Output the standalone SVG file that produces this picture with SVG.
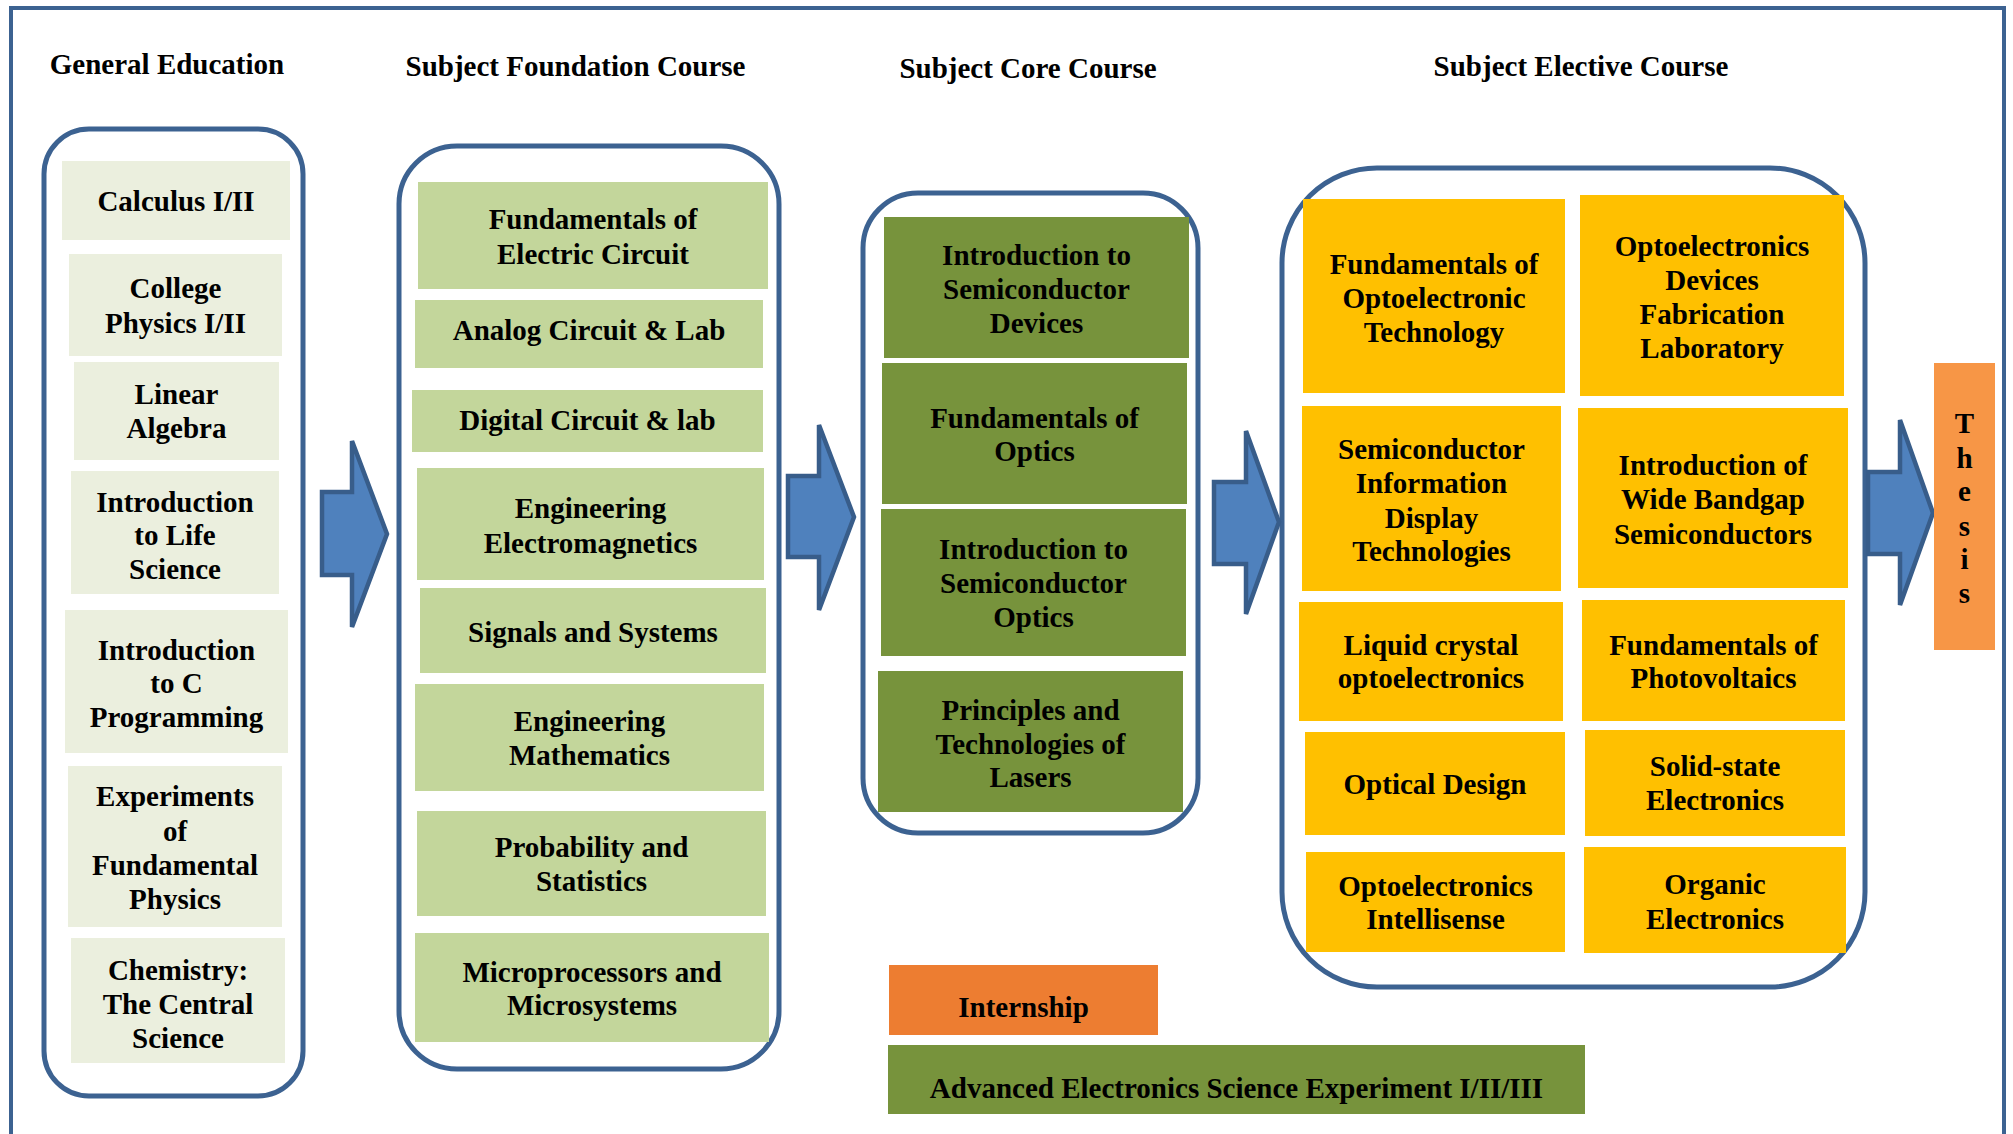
<svg xmlns="http://www.w3.org/2000/svg" width="2013" height="1134" viewBox="0 0 2013 1134">
<style>
text{font-family:"Liberation Serif","Times New Roman",serif;font-weight:bold;font-size:29px;fill:#000;text-anchor:middle}
.frame{fill:none;stroke:#3C6291;stroke-width:4}
.cont{fill:#fff;stroke:#3C6291;stroke-width:5}
.ge{fill:#EBEFDE}
.fd{fill:#C3D69B}
.co{fill:#77933C}
.el{fill:#FFC000}
.in{fill:#ED7D31}
.th{fill:#F79646}
.arrow{fill:#4F81BD;stroke:#385D8A;stroke-width:4.5;stroke-linejoin:miter}
</style>
<rect width="2013" height="1134" fill="#fff"/>
<path class="frame" d="M11,1140 V8 H2004 V1140"/>

<g id="titles">
<text x="167" y="74">General Education</text>
<text x="575.5" y="76">Subject Foundation Course</text>
<text x="1028" y="78">Subject Core Course</text>
<text x="1581" y="76">Subject Elective Course</text>
</g>

<g id="containers">
<rect id="ge-container" class="cont" x="44" y="129" width="259" height="967" rx="45"/>
<rect id="fd-container" class="cont" x="399" y="146" width="380" height="923" rx="58"/>
<rect id="co-container" class="cont" x="863" y="193" width="335" height="640" rx="55"/>
<rect id="el-container" class="cont" x="1282" y="168" width="583" height="819" rx="95"/>
</g>

<g id="connectors">
<polygon class="arrow" points="322,492 352,492 352,441 387,534 352,627 352,575 322,575"/>
<polygon class="arrow" points="788,476 819,476 819,425 854,517 819,610 819,557 788,557"/>
<polygon class="arrow" points="1214,482 1246,482 1246,431 1279,522 1246,614 1246,564 1214,564"/>
<polygon class="arrow" points="1868,472 1900,472 1900,420 1933,513 1900,605 1900,554 1868,554"/>
</g>

<g id="ge1"><rect class="ge" x="62" y="161" width="228" height="79"/><text x="176" y="211">Calculus I/II</text></g>
<g id="ge2"><rect class="ge" x="69" y="254" width="213" height="102"/><text x="175.5" y="298">College</text><text x="175.5" y="333">Physics I/II</text></g>
<g id="ge3"><rect class="ge" x="74" y="362" width="205" height="98"/><text x="176.5" y="404">Linear</text><text x="176.5" y="438">Algebra</text></g>
<g id="ge4"><rect class="ge" x="71" y="471" width="208" height="123"/><text x="175" y="512">Introduction</text><text x="175" y="545">to Life</text><text x="175" y="579">Science</text></g>
<g id="ge5"><rect class="ge" x="65" y="610" width="223" height="143"/><text x="176.5" y="660">Introduction</text><text x="176.5" y="693">to C</text><text x="176.5" y="727">Programming</text></g>
<g id="ge6"><rect class="ge" x="68" y="766" width="214" height="161"/><text x="175" y="806">Experiments</text><text x="175" y="841">of</text><text x="175" y="875">Fundamental</text><text x="175" y="909">Physics</text></g>
<g id="ge7"><rect class="ge" x="71" y="938" width="214" height="125"/><text x="178" y="980">Chemistry:</text><text x="178" y="1014">The Central</text><text x="178" y="1048">Science</text></g>

<g id="fd1"><rect class="fd" x="418" y="182" width="350" height="107"/><text x="593" y="229">Fundamentals of</text><text x="593" y="264">Electric Circuit</text></g>
<g id="fd2"><rect class="fd" x="415" y="300" width="348" height="68"/><text x="589" y="340">Analog Circuit &amp; Lab</text></g>
<g id="fd3"><rect class="fd" x="412" y="390" width="351" height="62"/><text x="587.5" y="430">Digital Circuit &amp; lab</text></g>
<g id="fd4"><rect class="fd" x="417" y="468" width="347" height="112"/><text x="590.5" y="518">Engineering</text><text x="590.5" y="553">Electromagnetics</text></g>
<g id="fd5"><rect class="fd" x="420" y="588" width="346" height="85"/><text x="593" y="642">Signals and Systems</text></g>
<g id="fd6"><rect class="fd" x="415" y="684" width="349" height="107"/><text x="589.5" y="731">Engineering</text><text x="589.5" y="765">Mathematics</text></g>
<g id="fd7"><rect class="fd" x="417" y="811" width="349" height="105"/><text x="591.5" y="857">Probability and</text><text x="591.5" y="891">Statistics</text></g>
<g id="fd8"><rect class="fd" x="415" y="933" width="354" height="109"/><text x="592" y="982">Microprocessors and</text><text x="592" y="1015">Microsystems</text></g>

<g id="co1"><rect class="co" x="884" y="217" width="305" height="141"/><text x="1036.5" y="265">Introduction to</text><text x="1036.5" y="299">Semiconductor</text><text x="1036.5" y="333">Devices</text></g>
<g id="co2"><rect class="co" x="882" y="363" width="305" height="141"/><text x="1034.5" y="428">Fundamentals of</text><text x="1034.5" y="461">Optics</text></g>
<g id="co3"><rect class="co" x="881" y="509" width="305" height="147"/><text x="1033.5" y="559">Introduction to</text><text x="1033.5" y="593">Semiconductor</text><text x="1033.5" y="627">Optics</text></g>
<g id="co4"><rect class="co" x="878" y="671" width="305" height="141"/><text x="1030.5" y="720">Principles and</text><text x="1030.5" y="754">Technologies of</text><text x="1030.5" y="787">Lasers</text></g>

<g id="el1"><rect class="el" x="1303" y="199" width="262" height="194"/><text x="1434" y="274">Fundamentals of</text><text x="1434" y="308">Optoelectronic</text><text x="1434" y="342">Technology</text></g>
<g id="el2"><rect class="el" x="1580" y="195" width="264" height="201"/><text x="1712" y="256">Optoelectronics</text><text x="1712" y="290">Devices</text><text x="1712" y="324">Fabrication</text><text x="1712" y="358">Laboratory</text></g>
<g id="el3"><rect class="el" x="1302" y="406" width="259" height="185"/><text x="1431.5" y="459">Semiconductor</text><text x="1431.5" y="493">Information</text><text x="1431.5" y="528">Display</text><text x="1431.5" y="561">Technologies</text></g>
<g id="el4"><rect class="el" x="1578" y="408" width="270" height="180"/><text x="1713" y="475">Introduction of</text><text x="1713" y="509">Wide Bandgap</text><text x="1713" y="544">Semiconductors</text></g>
<g id="el5"><rect class="el" x="1299" y="602" width="264" height="119"/><text x="1431" y="655">Liquid crystal</text><text x="1431" y="688">optoelectronics</text></g>
<g id="el6"><rect class="el" x="1582" y="600" width="263" height="121"/><text x="1713.5" y="655">Fundamentals of</text><text x="1713.5" y="688">Photovoltaics</text></g>
<g id="el7"><rect class="el" x="1305" y="732" width="260" height="103"/><text x="1435" y="794">Optical Design</text></g>
<g id="el8"><rect class="el" x="1585" y="730" width="260" height="106"/><text x="1715" y="776">Solid-state</text><text x="1715" y="810">Electronics</text></g>
<g id="el9"><rect class="el" x="1306" y="852" width="259" height="100"/><text x="1435.5" y="896">Optoelectronics</text><text x="1435.5" y="929">Intellisense</text></g>
<g id="el10"><rect class="el" x="1584" y="847" width="262" height="106"/><text x="1715" y="894">Organic</text><text x="1715" y="929">Electronics</text></g>

<g id="internship"><rect class="in" x="889" y="965" width="269" height="70"/><text x="1023.5" y="1017">Internship</text></g>
<g id="advanced"><rect class="co" x="888" y="1045" width="697" height="69"/><text x="1236.5" y="1098">Advanced Electronics Science Experiment I/II/III</text></g>
<g id="thesis"><rect class="th" x="1934" y="363" width="61" height="287"/><text x="1964.5" y="433">T</text><text x="1964.5" y="468">h</text><text x="1964.5" y="501">e</text><text x="1964.5" y="536">s</text><text x="1964.5" y="569">i</text><text x="1964.5" y="603">s</text></g>
</svg>
